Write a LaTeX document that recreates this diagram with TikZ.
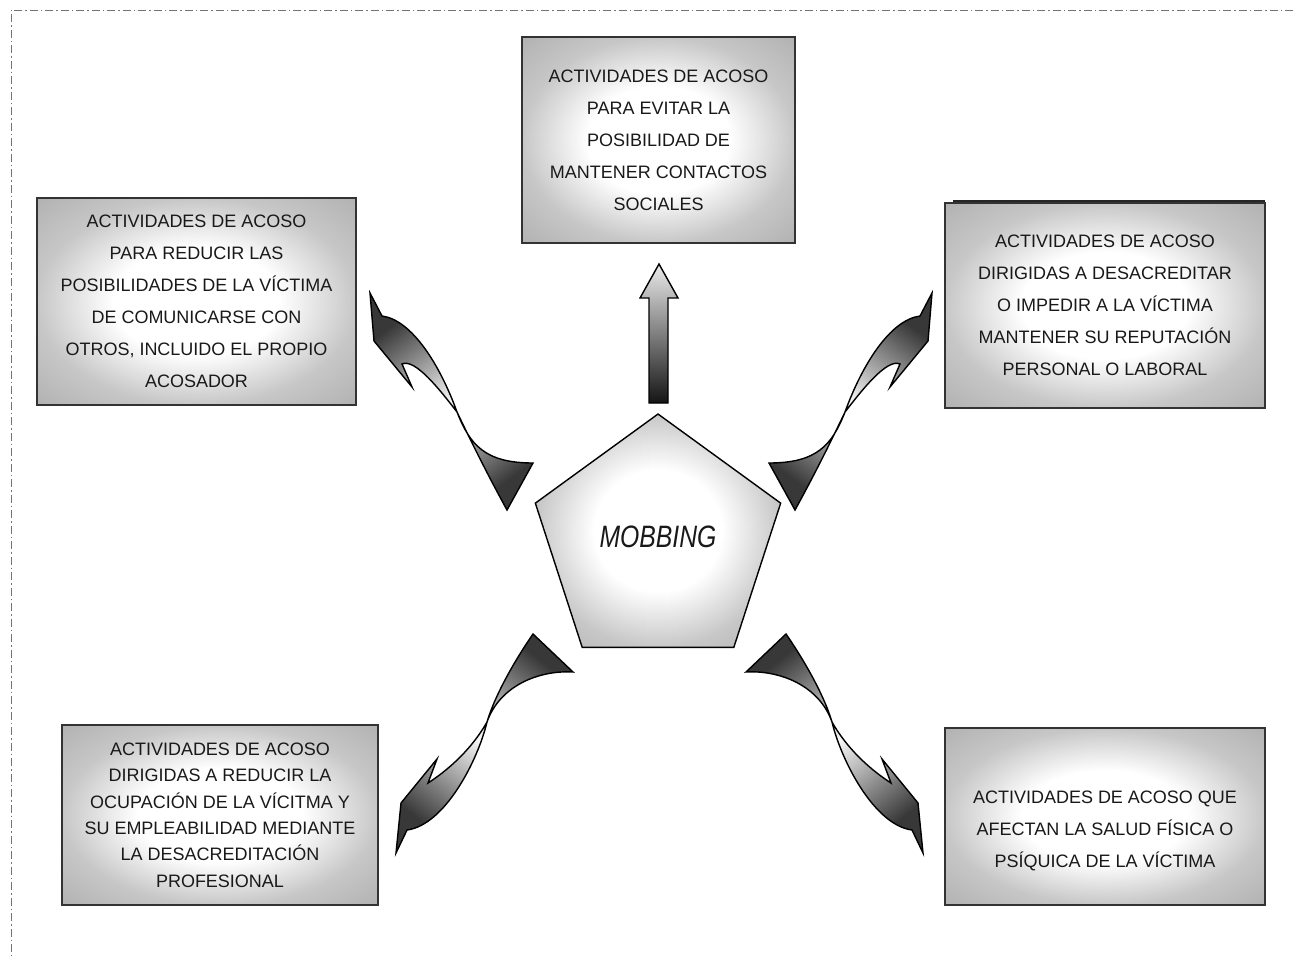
\documentclass[tikz,border=0pt]{standalone}
\usepackage{fontspec}
\setmainfont{Liberation Sans}
\newfontfamily\condfont{Liberation Sans}[FakeStretch=0.8]
\usetikzlibrary{shapes.geometric}
\pgfdeclareradialshading{boxglow}{\pgfpoint{0bp}{0bp}}{color(0bp)=(white); color(13bp)=(white); color(25bp)=(black!22); color(35bp)=(black!30); color(50bp)=(black!32)}

\begin{document}
\begin{tikzpicture}[x=0.02cm,y=-0.02cm,
  box/.style={draw=black!80, line width=0.8pt, shade, shading=boxglow, inner sep=0pt, align=center, text=black!90, font=\fontsize{10.24}{18.2}\selectfont},
  boxtext/.style={inner sep=0pt, align=center, text=black!90, font=\fontsize{10.24}{18.2}\selectfont},
  twist/.style={draw=black, line width=0.8pt, top color=black!78, bottom color=black!78, middle color=black!3}]
\useasboundingbox (0,0) rectangle (1293,956);
\draw[black!55, line width=0.5pt, dash pattern=on 0.16cm off 0.06cm on 0.03cm off 0.06cm] (1293,10) -- (11,10) -- (11,956);
\node[box, minimum width=5.46cm, minimum height=4.12cm] (contactos) at (658.5,140) {ACTIVIDADES DE ACOSO\\PARA EVITAR LA\\POSIBILIDAD DE\\MANTENER CONTACTOS\\SOCIALES};
\node[box, minimum width=6.38cm, minimum height=4.14cm] (comunicacion) at (196.5,301.5) {ACTIVIDADES DE ACOSO\\PARA REDUCIR LAS\\POSIBILIDADES DE LA VÍCTIMA\\DE COMUNICARSE CON\\OTROS, INCLUIDO EL PROPIO\\ACOSADOR};
\node[box, minimum width=6.4cm, minimum height=4.1cm] (reputacion) at (1105,305.5) {ACTIVIDADES DE ACOSO\\DIRIGIDAS A DESACREDITAR\\O IMPEDIR A LA VÍCTIMA\\MANTENER SU REPUTACIÓN\\PERSONAL O LABORAL};
\draw[black!85, line width=1.6pt] (953,201) -- (1265,201);
\node[box, minimum width=6.32cm, minimum height=3.6cm, font=\fontsize{10.24}{15}\selectfont] (ocupacion) at (220,815) {ACTIVIDADES DE ACOSO\\DIRIGIDAS A REDUCIR LA\\OCUPACIÓN DE LA VÍCITMA Y\\SU EMPLEABILIDAD MEDIANTE\\LA DESACREDITACIÓN\\PROFESIONAL};
\node[box, minimum width=6.4cm, minimum height=3.54cm] (salud) at (1105,816.5) {};
\node[boxtext] (saludtxt) at (1105,831) {ACTIVIDADES DE ACOSO QUE\\AFECTAN LA SALUD FÍSICA O\\PSÍQUICA DE LA VÍCTIMA};
\node[regular polygon, regular polygon sides=5, minimum size=5.16cm, inner sep=0pt, draw=black, line width=0.8pt, shade, shading=boxglow, text=black!90, text depth=0.24cm, font=\condfont\itshape\fontsize{17.6}{20}\selectfont] (mobbing) at (658,543) {MOBBING};
\draw[draw=black, line width=0.8pt, top color=black!8, bottom color=black!92] (649,403) -- (649,298) -- (640,298) -- (659,264) -- (678,298) -- (668,298) -- (668,403) -- cycle;
\draw[twist, shading angle=37] (370,293) -- (374,341) -- (412,387) -- (402,364) .. controls (415,358) and (440,390) .. (457,412) .. controls (470,445) and (485,463) .. (533,463) -- (507,510) .. controls (485,470) and (468,435) .. (457,412) .. controls (440,365) and (412,320) .. (382,316) -- cycle;
\draw[twist, shading angle=-37] (932,293) -- (928,341) -- (890,387) -- (900,364) .. controls (887,358) and (862,390) .. (845,412) .. controls (832,445) and (817,463) .. (769,463) -- (795,510) .. controls (817,470) and (834,435) .. (845,412) .. controls (862,365) and (890,320) .. (920,316) -- cycle;
\draw[twist, shading angle=-38] (396,853) -- (401,803) -- (437,759) -- (428,783) .. controls (445,772) and (470,752) .. (487,722) .. controls (495,695) and (515,660) .. (533,634) -- (573,672) .. controls (540,670) and (500,685) .. (487,722) .. controls (478,760) and (445,825) .. (407,830) -- cycle;
\draw[twist, shading angle=38] (923,853) -- (918,803) -- (882,759) -- (891,783) .. controls (874,772) and (849,752) .. (832,722) .. controls (824,695) and (804,660) .. (786,634) -- (746,672) .. controls (779,670) and (819,685) .. (832,722) .. controls (841,760) and (874,825) .. (912,830) -- cycle;
\end{tikzpicture}
\end{document}
